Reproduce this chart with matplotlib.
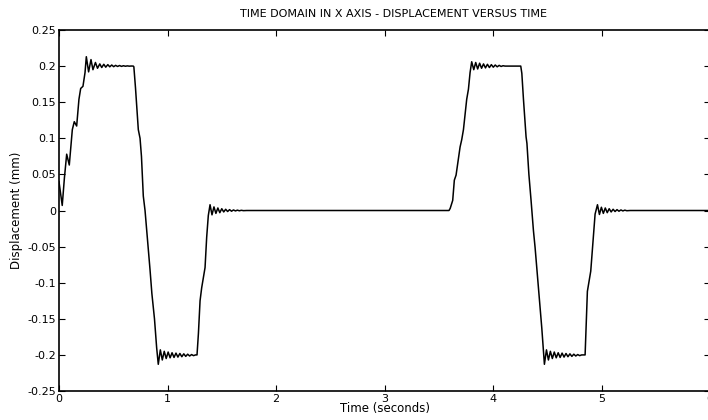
import matplotlib
matplotlib.use("Agg")
import matplotlib.pyplot as plt
import numpy as np

plt.rcParams["font.family"] = ["DejaVu Sans"]

# ---- values (time in s, displacement in mm) ----
rise1_t = [0.000, 0.030, 0.050, 0.071, 0.095, 0.123, 0.141, 0.163, 0.184, 0.200, 0.221, 0.240]
rise1_y = [0.040, 0.007, 0.045, 0.078, 0.063, 0.112, 0.123, 0.117, 0.154, 0.169, 0.172, 0.191]

top1_t = [0.252, 0.273, 0.295, 0.313, 0.336, 0.355, 0.376, 0.394, 0.413, 0.431, 0.450, 0.468,
          0.486, 0.504, 0.522, 0.540, 0.558, 0.576, 0.594, 0.612, 0.630, 0.648, 0.666, 0.685]
top1_y = [0.213, 0.192, 0.209, 0.195, 0.205, 0.197, 0.203, 0.198, 0.2025, 0.1985, 0.202, 0.199,
          0.2015, 0.1992, 0.201, 0.1995, 0.2008, 0.1996, 0.2005, 0.1998, 0.2003, 0.1999, 0.2001, 0.200]

fall1_t = [0.690, 0.705, 0.731, 0.747, 0.760, 0.777, 0.793, 0.839, 0.856, 0.880, 0.900, 0.915]
fall1_y = [0.199, 0.170, 0.112, 0.100, 0.075, 0.020, 0.000, -0.082, -0.115, -0.150, -0.190, -0.213]

bot1_t = [0.934, 0.952, 0.970, 0.988, 1.006, 1.024, 1.042, 1.060, 1.078, 1.096, 1.114, 1.132,
          1.150, 1.168, 1.186, 1.204, 1.222, 1.240, 1.258, 1.272]
bot1_y = [-0.193, -0.207, -0.195, -0.205, -0.196, -0.204, -0.197, -0.2035, -0.1975, -0.203, -0.198, -0.2025,
          -0.1985, -0.202, -0.199, -0.2015, -0.1995, -0.201, -0.200, -0.200]

up1_t = [1.285, 1.300, 1.315, 1.330, 1.346, 1.361, 1.376, 1.392]
up1_y = [-0.170, -0.125, -0.107, -0.093, -0.079, -0.037, -0.007, 0.008]

zero1_t = [1.410, 1.428, 1.446, 1.464, 1.482, 1.500, 1.518, 1.536, 1.554, 1.572, 1.590, 1.608,
           1.626, 1.644, 1.662, 1.680, 1.700, 1.730, 3.594]
zero1_y = [-0.006, 0.005, -0.004, 0.0035, -0.003, 0.0025, -0.002, 0.0017, -0.0014, 0.0012, -0.001, 0.0008,
           -0.0006, 0.0005, -0.0004, 0.0003, -0.0002, 0.0, 0.0]

rise2_t = [3.605, 3.628, 3.643, 3.659, 3.696, 3.711, 3.727, 3.757, 3.773, 3.788, 3.803]
rise2_y = [0.003, 0.014, 0.042, 0.049, 0.088, 0.098, 0.112, 0.154, 0.168, 0.191, 0.206]

top2_t = [3.822, 3.840, 3.858, 3.876, 3.894, 3.912, 3.930, 3.948, 3.966, 3.984, 4.002, 4.020,
          4.038, 4.056, 4.074, 4.092, 4.110, 4.255]
top2_y = [0.195, 0.205, 0.196, 0.204, 0.197, 0.203, 0.1975, 0.2025, 0.198, 0.202, 0.1985, 0.2015,
          0.199, 0.201, 0.1995, 0.2005, 0.200, 0.200]

fall2_t = [4.265, 4.280, 4.304, 4.312, 4.330, 4.350, 4.372, 4.387, 4.449, 4.473]
fall2_y = [0.190, 0.154, 0.102, 0.093, 0.050, 0.014, -0.028, -0.051, -0.163, -0.213]

bot2_t = [4.492, 4.510, 4.528, 4.546, 4.564, 4.582, 4.600, 4.618, 4.636, 4.654, 4.672, 4.690,
          4.708, 4.726, 4.744, 4.762, 4.780, 4.798, 4.816, 4.848]
bot2_y = [-0.193, -0.207, -0.195, -0.205, -0.196, -0.204, -0.197, -0.2035, -0.1975, -0.203, -0.198, -0.2025,
          -0.1985, -0.202, -0.199, -0.2015, -0.1995, -0.201, -0.200, -0.200]

up2_t = [4.869, 4.888, 4.900, 4.920, 4.940, 4.962]
up2_y = [-0.112, -0.095, -0.084, -0.045, -0.005, 0.008]

zero2_t = [4.980, 4.998, 5.016, 5.034, 5.052, 5.070, 5.088, 5.106, 5.124, 5.142, 5.160, 5.178,
           5.196, 5.214, 5.232, 5.263, 6.000]
zero2_y = [-0.0055, 0.0045, -0.004, 0.0035, -0.003, 0.0025, -0.002, 0.0017, -0.0014, 0.0012, -0.001, 0.0008,
           -0.0006, 0.0005, -0.0003, 0.0, 0.0]

x_ticks = [0, 1, 2, 3, 4, 5, 6]
y_ticks = [-0.25, -0.2, -0.15, -0.1, -0.05, 0, 0.05, 0.1, 0.15, 0.2, 0.25]
y_tick_labels = ["-0.25", "-0.2", "-0.15", "-0.1", "-0.05", "0", "0.05", "0.1", "0.15", "0.2", "0.25"]

t = np.concatenate([rise1_t, top1_t, fall1_t, bot1_t, up1_t, zero1_t,
                    rise2_t, top2_t, fall2_t, bot2_t, up2_t, zero2_t])
y = np.concatenate([rise1_y, top1_y, fall1_y, bot1_y, up1_y, zero1_y,
                    rise2_y, top2_y, fall2_y, bot2_y, up2_y, zero2_y])

fig = plt.figure(figsize=(7.08, 4.2), dpi=100)
ax = fig.add_axes([0.0833, 0.069, 0.9197, 0.8596])

ax.plot(t, y, color="black", linewidth=1.1)

ax.set_xlim(0, 6)
ax.set_ylim(-0.25, 0.25)
ax.set_xticks(x_ticks)
ax.set_xticklabels([str(v) for v in x_ticks])
ax.set_yticks(y_ticks)
ax.set_yticklabels(y_tick_labels)
ax.tick_params(direction="in", length=4, width=0.8, top=True, right=True,
               labelsize=8, pad=2, colors="black")

for s in ax.spines.values():
    s.set_linewidth(1.2)

ax.set_title("TIME DOMAIN IN X AXIS - DISPLACEMENT VERSUS TIME", fontsize=8, pad=9, x=0.513)
ax.set_xlabel("Time (seconds)", fontsize=8.5, labelpad=-1)
ax.set_ylabel("Displacement (mm)", fontsize=8.5, labelpad=3)

fig.savefig("out.png", dpi=100)
